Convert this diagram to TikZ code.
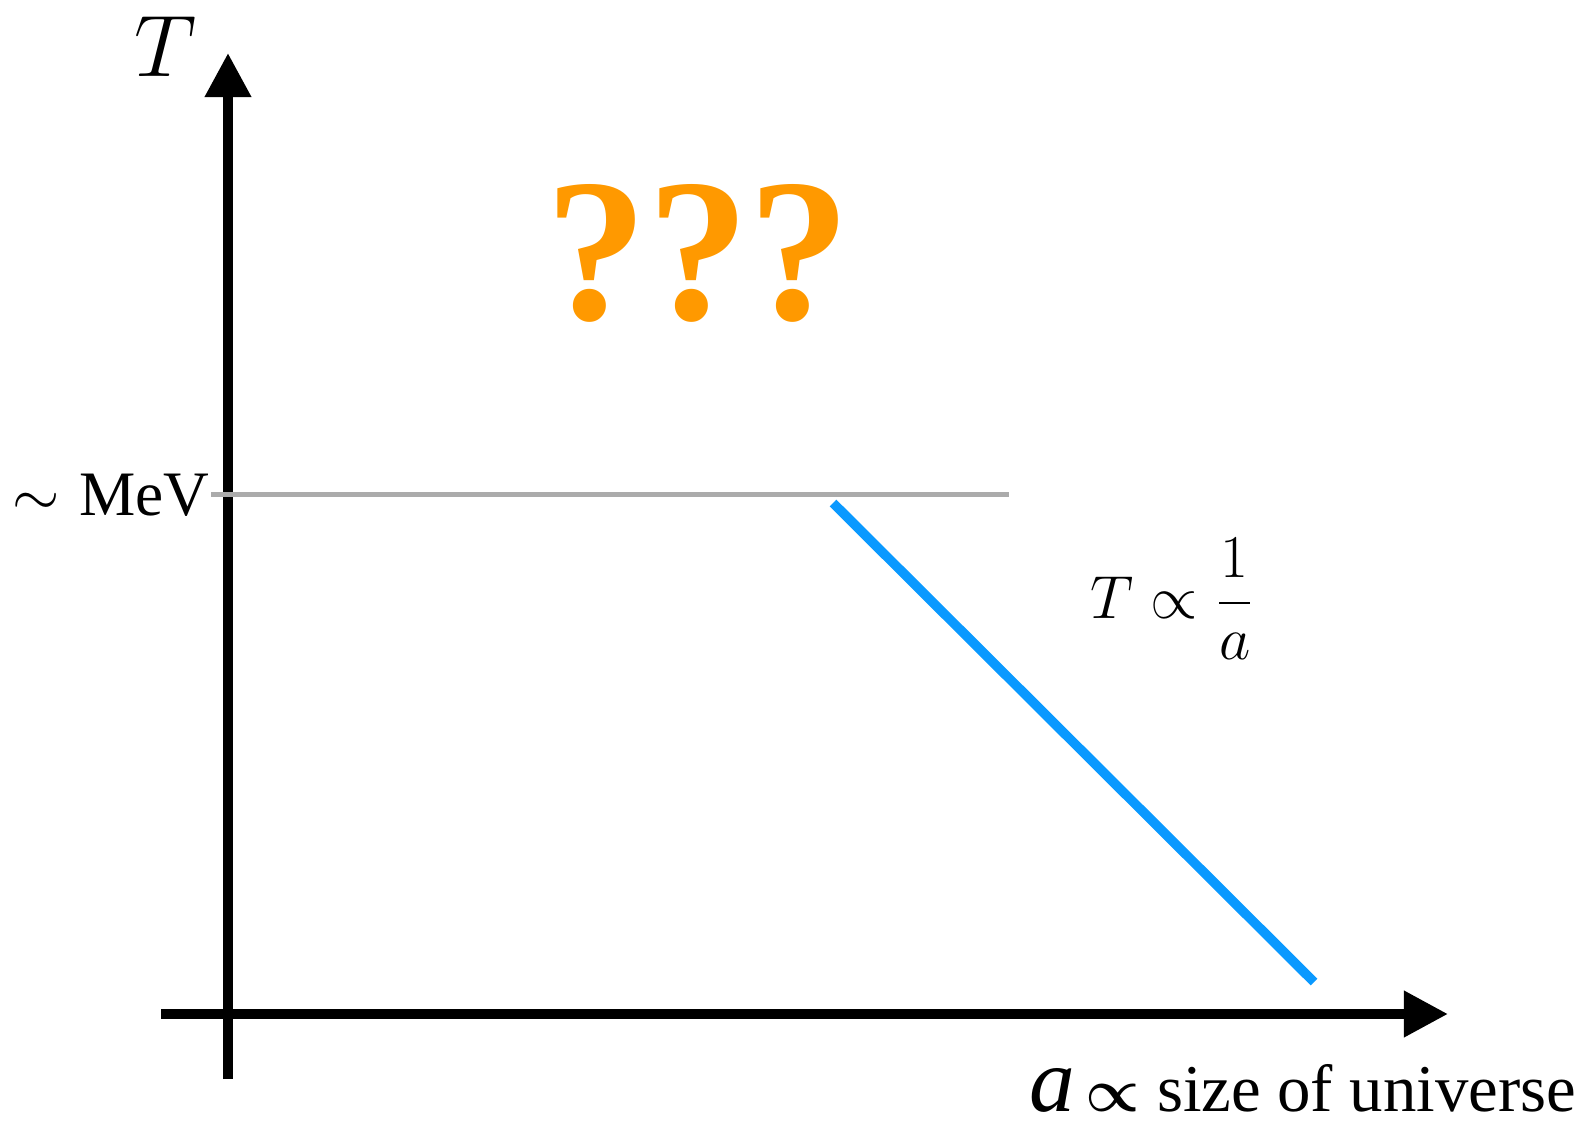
\documentclass[tikz,border=0pt]{standalone}
\usepackage{fontspec}
\newfontfamily\timesfont{Liberation Serif}
\usetikzlibrary{arrows.meta}
\definecolor{coolblue}{HTML}{0A99FF}
\definecolor{puzzleorange}{HTML}{FF9900}
\definecolor{mevgray}{HTML}{ABABAB}

\begin{document}
\begin{tikzpicture}[x=0.01cm, y=-0.01cm,
  axis/.style={line width=1mm, -{Triangle[length=4.4mm, width=4.4mm]}},
  label/.style={inner sep=0pt, font=#1},
  label/.default=\fontsize{18.5}{20}\selectfont
]
  \useasboundingbox (0,0) rectangle (1587,1127);

  % axes
  \coordinate (xstart) at (161,1014);
  \coordinate (xend) at (1448,1014);
  \coordinate (ystart) at (228,1079);
  \coordinate (yend) at (228,53);
  \draw[axis] (xstart) -- (xend);
  \draw[axis] (ystart) -- (yend);

  % MeV level and cooling
  \coordinate (mevleft) at (211,494);
  \coordinate (mevright) at (1009,494);
  \coordinate (coolstart) at (833,503);
  \coordinate (coolend) at (1314,982);
  \draw[mevgray, line width=0.5mm] (mevleft) -- (mevright);
  \draw[coolblue, line width=0.95mm] (coolstart) -- (coolend);

  % labels
  \node[label=\fontsize{31}{33}\selectfont] (tlabel) at (166,47) {$T$};
  \node[label=\fontsize{18}{20}\selectfont, anchor=base east] (mev) at (210,515) {{\fontsize{16}{18}\selectfont$\sim$}\hspace{0.3em}\timesfont MeV};
  \node[label, anchor=west] (law) at (1090,599) {$\displaystyle T\propto\frac{1}{a}$};
  \node[label=\fontsize{19}{21}\selectfont, anchor=base east] (alabel) at (1577,1111)
    {{\timesfont\itshape\fontsize{26}{27}\selectfont a}\,{\boldmath$\propto$}\hspace{0.25em}\timesfont size of universe};
  \node[label=\fontsize{58}{60}\selectfont\timesfont\bfseries, text=puzzleorange] (unknown) at (698,253) {???};
\end{tikzpicture}
\end{document}
